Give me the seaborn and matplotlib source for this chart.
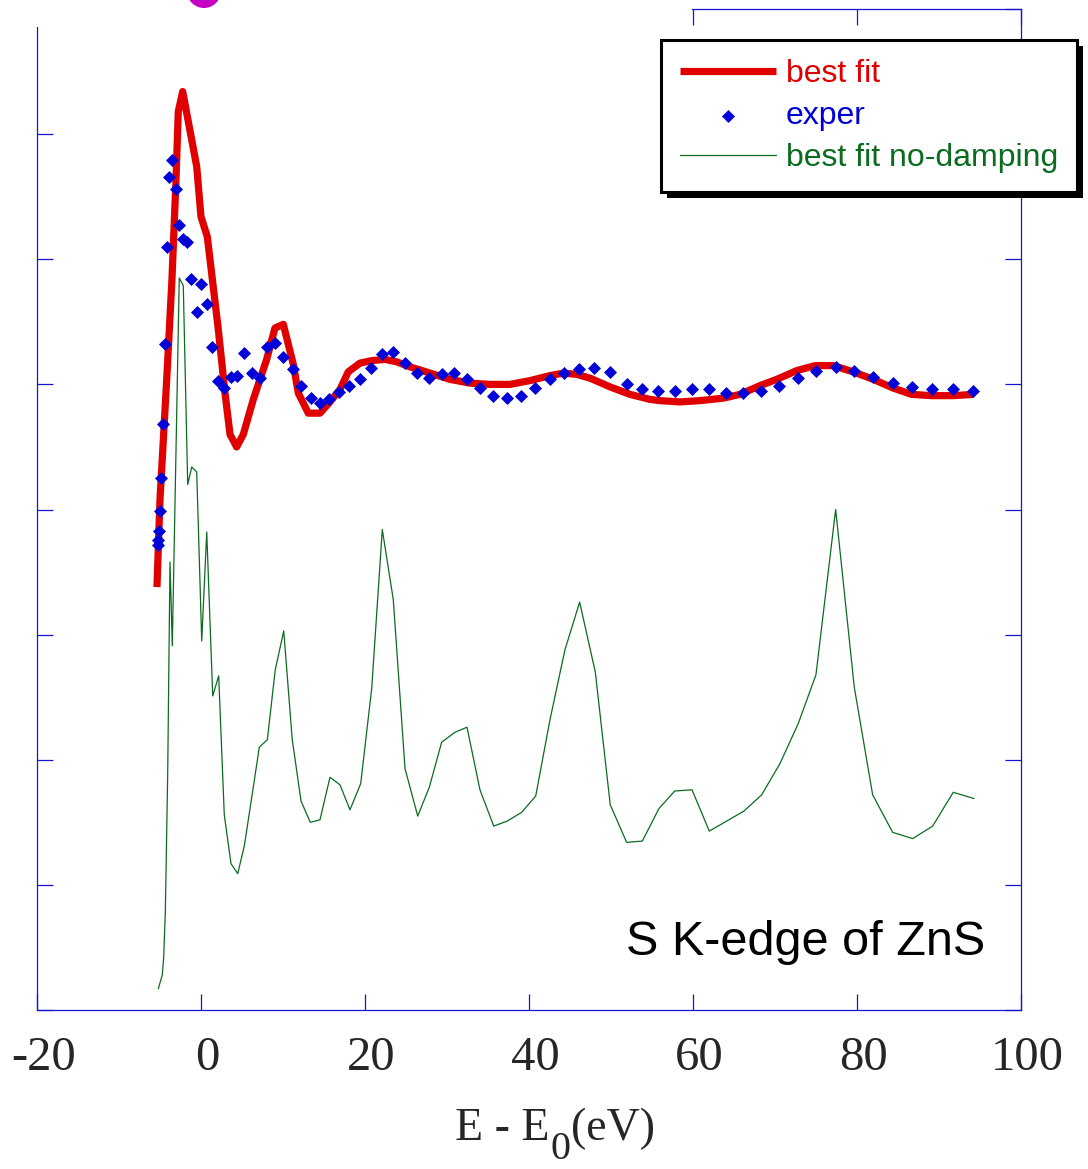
import matplotlib
matplotlib.use("Agg")
import matplotlib.pyplot as plt
import matplotlib.patheffects as pe
from matplotlib.patches import Rectangle, Ellipse
from matplotlib.transforms import ScaledTranslation
import seaborn as sns

# ==========================================
# DONNEES
# ==========================================
fit_e = [-5.37, -5.00, -4.18, -3.54, -3.05, -2.77, -2.23, -0.52, 0.00, 0.77,
         2.11, 2.93, 3.54, 4.35, 5.16, 6.38, 8.01, 9.02, 10.04, 11.26,
         11.87, 13.09, 14.51, 15.73, 16.95, 17.96, 19.39, 20.82, 22.44, 23.87,
         25.49, 27.93, 30.37, 32.80, 35.24, 37.68, 40.12, 42.56, 44.18, 45.82,
         47.44, 49.88, 52.32, 54.76, 55.98, 58.41, 60.85, 63.70, 65.73, 68.17,
         70.21, 72.65, 74.88, 77.11, 79.55, 81.99, 84.43, 86.67, 89.11, 91.74,
         94.18]
fit_mu = [3.38, 4.08, 5.04, 5.84, 6.63, 7.18, 7.34, 6.74, 6.34, 6.18,
          5.44, 4.93, 4.60, 4.50, 4.60, 4.88, 5.20, 5.45, 5.48, 5.16,
          4.93, 4.77, 4.77, 4.86, 4.96, 5.10, 5.17, 5.19, 5.20, 5.18,
          5.14, 5.09, 5.04, 5.01, 5.00, 5.00, 5.03, 5.07, 5.09, 5.08,
          5.05, 4.98, 4.92, 4.88, 4.87, 4.86, 4.87, 4.89, 4.92, 4.99,
          5.04, 5.11, 5.15, 5.15, 5.10, 5.04, 4.97, 4.92, 4.91, 4.91,
          4.92]

exp_e = [-5.21, -5.21, -5.09, -5.00, -4.84, -4.63, -4.39, -4.11, -3.87, -3.50,
         -3.09, -2.68, -2.23, -1.67, -1.18, -0.52, 0.00, 0.70, 1.38, 2.07,
         2.80, 3.66, 4.43, 5.24, 6.22, 7.20, 8.01, 9.06, 10.04, 11.18,
         12.20, 13.38, 14.51, 15.65, 16.87, 18.09, 19.39, 20.73, 22.11, 23.45,
         24.88, 26.38, 27.84, 29.35, 30.85, 32.40, 34.02, 35.65, 37.35, 38.99,
         40.73, 42.56, 44.30, 46.13, 47.93, 49.88, 51.91, 53.84, 55.77, 57.80,
         59.84, 61.95, 64.02, 66.13, 68.26, 70.52, 72.77, 75.00, 77.40, 79.63,
         81.91, 84.35, 86.74, 89.18, 91.74, 94.18]
exp_mu = [3.72, 3.76, 3.83, 3.99, 4.25, 4.68, 5.32, 6.10, 6.66, 6.79,
          6.56, 6.27, 6.16, 6.14, 5.84, 5.58, 5.80, 5.64, 5.30, 5.03,
          4.97, 5.06, 5.07, 5.25, 5.09, 5.05, 5.30, 5.33, 5.22, 5.12,
          4.99, 4.89, 4.85, 4.88, 4.94, 4.99, 5.04, 5.13, 5.24, 5.26,
          5.17, 5.09, 5.05, 5.08, 5.09, 5.04, 4.97, 4.91, 4.89, 4.91,
          4.97, 5.04, 5.09, 5.12, 5.13, 5.10, 5.00, 4.96, 4.95, 4.95,
          4.96, 4.96, 4.93, 4.93, 4.95, 4.99, 5.05, 5.11, 5.14, 5.11,
          5.06, 5.01, 4.98, 4.96, 4.96, 4.95]

nodamp_e = [-5.21, -4.72, -4.55, -4.35, -4.06, -3.78, -3.50, -2.65, -2.16, -1.62,
            -1.13, -0.52, 0.09, 0.70, 1.43, 2.16, 2.84, 3.66, 4.48, 5.28,
            6.26, 7.11, 8.09, 9.06, 10.09, 11.13, 12.20, 13.33, 14.51, 15.73,
            16.95, 18.17, 19.48, 20.82, 22.11, 23.45, 24.88, 26.43, 27.84, 29.35,
            30.98, 32.44, 34.02, 35.70, 37.35, 39.11, 40.82, 42.56, 44.39, 46.18,
            48.09, 49.91, 51.91, 53.82, 55.85, 57.77, 59.88, 61.99, 64.11, 66.22,
            68.38, 70.61, 72.84, 75.00, 77.40, 79.67, 81.91, 84.35, 86.79, 89.23,
            91.74, 94.27]
nodamp_mu = [0.17, 0.28, 0.42, 0.78, 1.89, 3.58, 2.91, 5.85, 5.79, 4.20,
             4.34, 4.30, 2.95, 3.82, 2.51, 2.67, 1.56, 1.17, 1.09, 1.31,
             1.73, 2.10, 2.16, 2.72, 3.03, 2.16, 1.67, 1.50, 1.52, 1.86,
             1.80, 1.60, 1.81, 2.57, 3.84, 3.28, 1.93, 1.55, 1.78, 2.14,
             2.22, 2.26, 1.76, 1.47, 1.51, 1.58, 1.71, 2.32, 2.88, 3.26,
             2.70, 1.64, 1.34, 1.35, 1.61, 1.75, 1.76, 1.43, 1.51, 1.59,
             1.72, 1.97, 2.29, 2.68, 4.00, 2.58, 1.72, 1.42, 1.37, 1.47,
             1.74, 1.69]

x_ticks = [-20, 0, 20, 40, 60, 80, 100]
x_tick_labels = ["-20", "0", "20", "40", "60", "80", "100"]
y_ticks = [0, 1, 2, 3, 4, 5, 6, 7, 8]

RED = "#e00000"
BLUE = "#0000d8"
GREEN = "#0b6b1f"
AXIS_BLUE = "#1515d0"

# ==========================================
# FIGURE
# ==========================================
sns.set_style("white")
plt.rcParams["font.family"] = ["Liberation Sans", "DejaVu Sans"]

fig = plt.figure(figsize=(10.88, 11.69), dpi=100)
ax = fig.add_axes([0.0340, 0.1360, 0.9044, 0.8563])

sns.lineplot(x=fit_e, y=fit_mu, ax=ax, color=RED, linewidth=5.2,
             label="best fit", sort=False, estimator=None, zorder=2,
             solid_capstyle="butt")
sns.scatterplot(x=exp_e, y=exp_mu, ax=ax, marker="D", s=44, color=BLUE,
                linewidth=0, label="exper", zorder=3)
sns.lineplot(x=nodamp_e, y=nodamp_mu, ax=ax, color=GREEN, linewidth=0.9,
             label="best fit no-damping", sort=False, estimator=None, zorder=2)

ax.set_xlim(-20, 100)
ax.set_ylim(0, 8)
ax.set_xticks(x_ticks)
ax.set_xticklabels(x_tick_labels, fontfamily="Liberation Serif", fontsize=35)
ax.set_yticks(y_ticks)
ax.set_xlabel("")
ax.set_ylabel("")

for sp in ax.spines.values():
    sp.set_color(AXIS_BLUE)
    sp.set_linewidth(0.9)
ax.tick_params(direction="in", length=11.5, width=0.9, color=AXIS_BLUE,
               top=True, right=True, left=True, bottom=True,
               labelleft=False, pad=19)
# les étiquettes de l'original sont un peu décalées vers la droite
shift = ScaledTranslation(4.5 / 72, 0, fig.dpi_scale_trans)
for lbl in ax.get_xticklabels():
    lbl.set_transform(lbl.get_transform() + shift)

# x label : E - E0(eV) avec un indice presque pleine taille
t1 = ax.text(0.4248, -0.1300, "E - E", transform=ax.transAxes,
             fontfamily="Liberation Serif", fontsize=33, va="baseline", ha="left")
t2 = ax.annotate("0", xy=(1, 0), xycoords=t1, xytext=(1, -13),
                 textcoords="offset points", fontfamily="Liberation Serif",
                 fontsize=29, va="bottom", ha="left")
ax.annotate("(eV)", xy=(1, 0), xycoords=(t2, t1), xytext=(0, 0),
            textcoords="offset points", fontfamily="Liberation Serif",
            fontsize=33, va="bottom", ha="left")

ax.text(0.9634, 0.055, "S K-edge of ZnS", transform=ax.transAxes,
        fontsize=35, ha="right", va="baseline", color="black")

# legende avec ombre noire
handles, labels = ax.get_legend_handles_labels()
leg = ax.legend(handles, labels, loc="upper right",
                bbox_to_anchor=(1077 / 1088, 1 - 40 / 1169),
                bbox_transform=fig.transFigure, frameon=True, fancybox=False,
                edgecolor="black", framealpha=1, fontsize=23,
                handlelength=3.0, handletextpad=0.3, labelspacing=0.37,
                borderpad=0.6, borderaxespad=0)
leg.get_frame().set_linewidth(2.2)
leg.get_frame().set_path_effects([
    pe.SimplePatchShadow(offset=(4.3, -4.3), shadow_rgbFace="black", alpha=1),
    pe.Normal()])
for txt, col in zip(leg.get_texts(), [RED, BLUE, GREEN]):
    txt.set_color(col)

# image coupée en haut (boule magenta) qui masque une partie du cadre
fig.add_artist(Rectangle((0, 1 - 27 / 1169), 692 / 1088, 27 / 1169,
                         transform=fig.transFigure, facecolor="white",
                         edgecolor="none", zorder=5))
fig.add_artist(Ellipse((204 / 1088, 1 + 9 / 1169), 34 / 1088, 34 / 1169,
                       transform=fig.transFigure, facecolor="#c400c4",
                       edgecolor="none", zorder=6))

plt.savefig("out.png", dpi=100)
plt.close()
